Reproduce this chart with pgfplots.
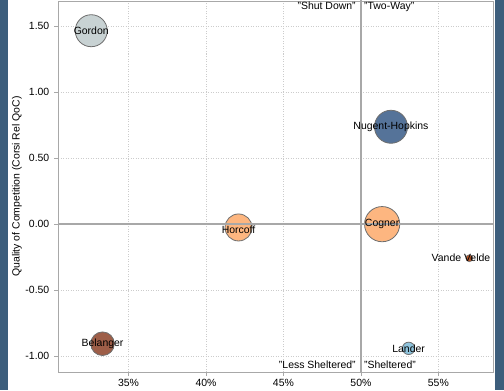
\documentclass[border=0pt]{standalone}
\usepackage{pgfplots}
\pgfplotsset{compat=1.18}
\usepackage{fontspec}
\setmainfont{Liberation Sans}
\definecolor{frameblue}{HTML}{3D5E7C}
\definecolor{axisgray}{HTML}{A8A8A8}
\definecolor{gridgray}{HTML}{CCCCCC}
\definecolor{bubbleedge}{HTML}{6E6E6E}
\definecolor{cGordon}{HTML}{C8D2D3}
\definecolor{cNugent}{HTML}{557399}
\definecolor{cOrange}{HTML}{FDB680}
\definecolor{cVande}{HTML}{B5562A}
\definecolor{cLander}{HTML}{8EC3DC}
\definecolor{cBelanger}{HTML}{9E5E48}
\begin{document}
\fontsize{10.5}{12.6}\selectfont
\begin{tikzpicture}[x=1bp,y=1bp]
\fill[white] (0,0) rectangle (504,390);
\fill[frameblue] (0,0) rectangle (8,390);
\fill[frameblue] (495,0) rectangle (504,390);
\useasboundingbox (0,0) rectangle (504,390);
\begin{axis}[
  at={(58bp,18bp)}, anchor=south west,
  scale only axis, width=435.5bp, height=371bp,
  xmin=30.445, xmax=58.56, ymin=-1.119, ymax=1.689,
  xtick={35,40,45,50,55},
  xticklabels={35\%,40\%,45\%,50\%,55\%},
  ytick={-1,-0.5,0,0.5,1,1.5},
  yticklabels={-1.00,-0.50,0.00,0.50,1.00,1.50},
  tick pos=left, tick align=outside,
  major tick length=4bp,
  every tick/.style={axisgray, line width=0.8bp},
  axis line style={axisgray, line width=0.8bp},
  grid=major,
  grid style={gridgray, line width=0.6bp, dash pattern=on 1bp off 1.5bp},
  ylabel={Quality of Competition (Corsi Rel QoC)},
  every axis y label/.style={at={(axis description cs:-0.0941,0.5)}, rotate=90, anchor=center},
  ticklabel style={font=\fontsize{10.5}{12.6}\selectfont},
  yticklabel style={xshift=-1bp},
  clip=true,
  clip marker paths=true,
]
% bubbles
\addplot[only marks, mark=*, mark size=16bp, mark options={fill=cGordon, draw=bubbleedge, line width=0.8bp}] coordinates {(32.59,1.464)};
\addplot[only marks, mark=*, mark size=16.5bp, mark options={fill=cNugent, draw=bubbleedge, line width=0.8bp}] coordinates {(51.94,0.737)};
\addplot[only marks, mark=*, mark size=13.5bp, mark options={fill=cOrange, draw=bubbleedge, line width=0.8bp}] coordinates {(42.10,-0.025)};
\addplot[only marks, mark=*, mark size=17.6bp, mark options={fill=cOrange, draw=bubbleedge, line width=0.8bp}] coordinates {(51.37,0.0)};
\addplot[only marks, mark=*, mark size=3.5bp, mark options={fill=cVande, draw=bubbleedge, line width=0.6bp}] coordinates {(57.00,-0.258)};
\addplot[only marks, mark=*, mark size=6.2bp, mark options={fill=cLander, draw=bubbleedge, line width=0.8bp}] coordinates {(53.08,-0.940)};
\addplot[only marks, mark=*, mark size=11.8bp, mark options={fill=cBelanger, draw=bubbleedge, line width=0.8bp}] coordinates {(33.32,-0.905)};
% quadrant lines
\addplot[axisgray, line width=1.6bp, forget plot] coordinates {(50,-2) (50,2)};
\addplot[axisgray, line width=1.6bp, forget plot] coordinates {(20,0) (70,0)};
% labels
\node[anchor=center] at (axis cs:32.59,1.464) {Gordon};
\node[anchor=center] at (axis cs:51.94,0.737) {Nugent-Hopkins};
\node[anchor=center] at (axis cs:42.10,-0.04) {Horcoff};
\node[anchor=center] at (axis cs:51.37,0.0) {Cogner};
\node[anchor=center] at (axis cs:56.46,-0.258) {Vande Velde};
\node[anchor=center] at (axis cs:53.08,-0.940) {Lander};
\node[anchor=center] at (axis cs:33.32,-0.905) {Belanger};
\node[anchor=north east, inner sep=0pt, xshift=-5bp, yshift=-1bp] at (axis cs:50,1.689) {"Shut Down"};
\node[anchor=north west, inner sep=0pt, xshift=3bp, yshift=-1bp] at (axis cs:50,1.689) {"Two-Way"};
\node[anchor=south east, inner sep=0pt, xshift=-5bp, yshift=3bp] at (axis cs:50,-1.119) {"Less Sheltered"};
\node[anchor=south west, inner sep=0pt, xshift=3bp, yshift=3bp] at (axis cs:50,-1.119) {"Sheltered"};
\end{axis}
\end{tikzpicture}
\end{document}
